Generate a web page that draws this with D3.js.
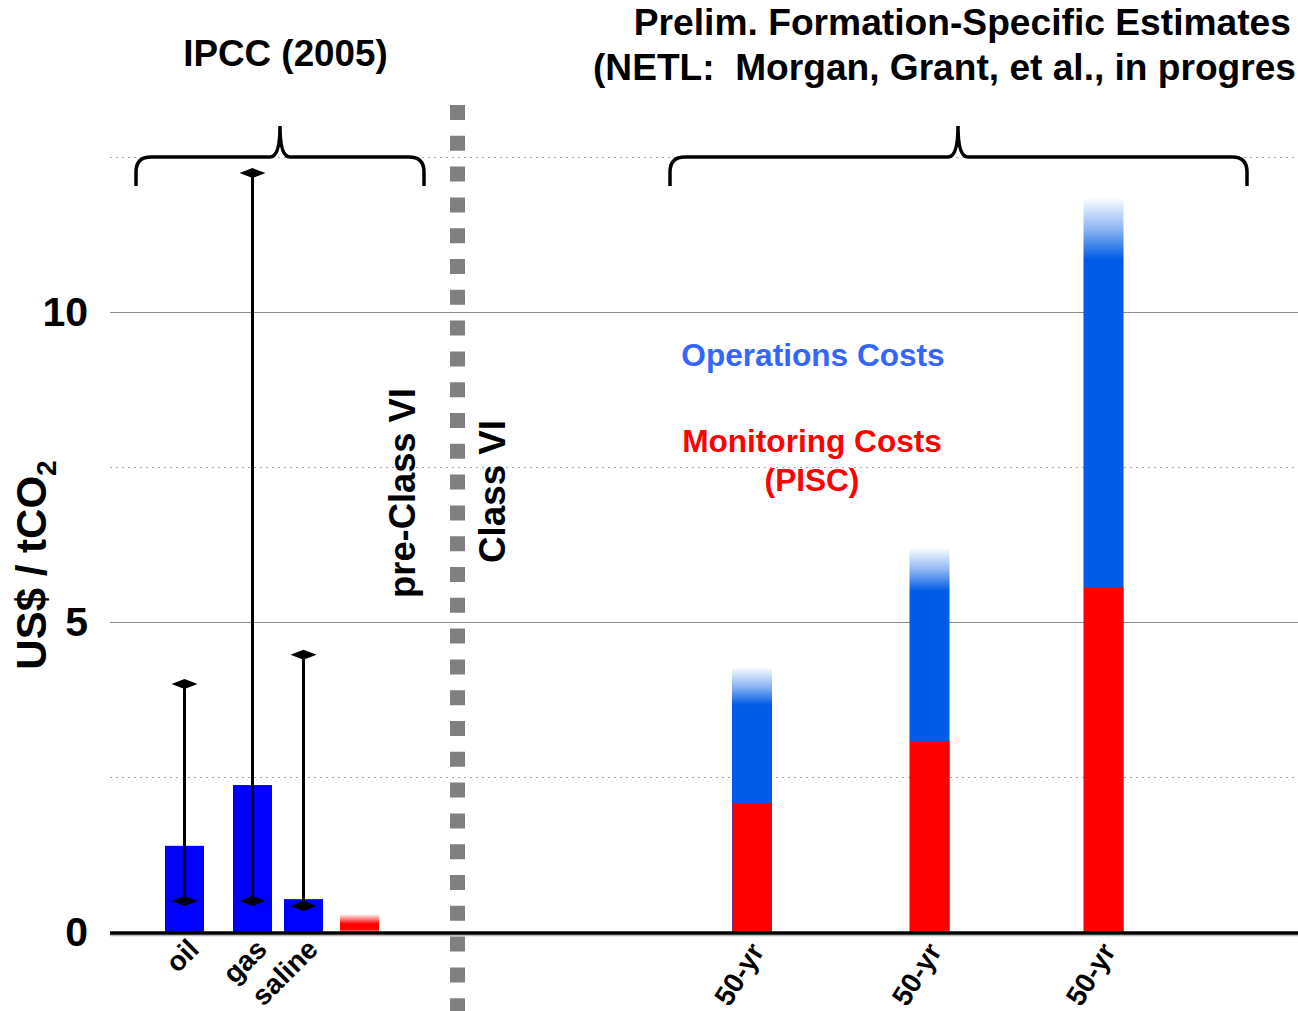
<!DOCTYPE html>
<html>
<head>
<meta charset="utf-8">
<script src="https://cdn.jsdelivr.net/npm/d3@7"></script>
<style>
  html, body { margin: 0; padding: 0; background: #fff; }
  svg { display: block; font-family: "Liberation Sans", Arial, sans-serif; font-weight: bold; }
</style>
</head>
<body>
<svg id="chart" width="1298" height="1011"></svg>
<script>
// ---- data ----
const ipccCategories = ["oil", "gas", "saline", "pre-VI"];
const ipccLabels = ["oil", "gas", "saline", ""];
const ipccValues = [1.39, 2.37, 0.53, 0.29];
const ipccLow = [0.5, 0.5, 0.42, null];
const ipccHigh = [4.0, 12.24, 4.47, null];

const netlCategories = ["n1", "n2", "n3"];
const netlLabels = ["50-yr", "50-yr", "50-yr"];
const monitoringCosts = [2.08, 3.08, 5.56];
const totalCosts = [4.26, 6.18, 11.82];

const solidTicks = [5, 10];
const dottedTicks = [2.5, 7.5, 12.5];
const yTickLabels = [0, 5, 10];

// ---- layout ----
const svg = d3.select("#chart");
const W = 1298, H = 1011;
const left = 110, right = 1298;

const y = d3.scaleLinear().domain([0, 12.5]).range([932, 157]);
const x = d3.scaleOrdinal()
  .domain(ipccCategories.concat(netlCategories))
  .range([184.5, 252.5, 303.5, 359.5, 752, 929.5, 1103.5]);
const barW = 39;

const defs = svg.append("defs");

// gridlines
svg.append("g").selectAll("line").data(dottedTicks).join("line")
  .attr("x1", left).attr("x2", right)
  .attr("y1", d => y(d) + 0.5).attr("y2", d => y(d) + 0.5)
  .attr("stroke", "#a6a6a6").attr("stroke-width", 1.2)
  .attr("stroke-dasharray", "2,4");
svg.append("g").selectAll("line").data(solidTicks).join("line")
  .attr("x1", left).attr("x2", right)
  .attr("y1", d => y(d) + 0.5).attr("y2", d => y(d) + 0.5)
  .attr("stroke", "#8c8c8c").attr("stroke-width", 1);

// y tick labels
svg.append("g").selectAll("text").data(yTickLabels).join("text")
  .attr("x", 88).attr("y", d => y(d) + 14)
  .attr("text-anchor", "end")
  .attr("font-size", 41)
  .text(d => d);

// y axis label
const yl = svg.append("text")
  .attr("transform", `translate(46,${565}) rotate(-90)`)
  .attr("text-anchor", "middle")
  .attr("font-size", 42);
yl.append("tspan").text("US$ / tCO");
yl.append("tspan").attr("font-size", 28).attr("dy", 10).text("2");

// IPCC bars
const ipcc = ipccCategories.map((c, i) => ({c, v: ipccValues[i], lo: ipccLow[i], hi: ipccHigh[i], label: ipccLabels[i]}));

const redFade = defs.append("linearGradient").attr("id", "redFade")
  .attr("x1", 0).attr("x2", 0).attr("y1", 0).attr("y2", 1);
redFade.append("stop").attr("offset", 0).attr("stop-color", "#ffffff");
redFade.append("stop").attr("offset", 0.55).attr("stop-color", "#ff0000");
redFade.append("stop").attr("offset", 0.85).attr("stop-color", "#ff0000");
redFade.append("stop").attr("offset", 1).attr("stop-color", "#ffb0b0");

svg.append("g").selectAll("rect").data(ipcc).join("rect")
  .attr("x", d => x(d.c) - barW / 2)
  .attr("width", barW)
  .attr("y", d => y(d.v))
  .attr("height", d => y(0) - y(d.v))
  .attr("fill", d => d.lo == null ? "url(#redFade)" : "#0000ff");

// error bars
const eb = ipcc.filter(d => d.lo != null);
svg.append("g").selectAll("line").data(eb).join("line")
  .attr("x1", d => x(d.c)).attr("x2", d => x(d.c))
  .attr("y1", d => y(d.lo)).attr("y2", d => y(d.hi))
  .attr("stroke", "#000").attr("stroke-width", 3);
const diamond = (cx, cy) => `M${cx - 13},${cy}L${cx},${cy - 5}L${cx + 13},${cy}L${cx},${cy + 5}Z`;
svg.append("g").selectAll("path").data(eb.flatMap(d => [{c: d.c, v: d.lo}, {c: d.c, v: d.hi}])).join("path")
  .attr("d", d => diamond(x(d.c), y(d.v)))
  .attr("fill", "#000");

// NETL stacked bars
const netl = netlCategories.map((c, i) => ({c, m: monitoringCosts[i], t: totalCosts[i], label: netlLabels[i]}));
netl.forEach((d, i) => {
  const top = y(d.t), segH = y(d.m) - y(d.t);
  const fade = Math.min(60, Math.max(37, 0.22 * segH));
  const g = defs.append("linearGradient").attr("id", "blueFade" + i)
    .attr("gradientUnits", "userSpaceOnUse")
    .attr("x1", 0).attr("x2", 0).attr("y1", top).attr("y2", top + fade);
  g.append("stop").attr("offset", 0).attr("stop-color", "#005ce6").attr("stop-opacity", 0.03);
  g.append("stop").attr("offset", 0.5).attr("stop-color", "#005ce6").attr("stop-opacity", 0.45);
  g.append("stop").attr("offset", 1).attr("stop-color", "#005ce6").attr("stop-opacity", 1);
});
svg.append("g").selectAll("rect").data(netl).join("rect")
  .attr("x", d => x(d.c) - barW / 2 - 0.5)
  .attr("width", barW + 1)
  .attr("y", d => y(d.t))
  .attr("height", d => y(0) - y(d.t))
  .attr("fill", (d, i) => `url(#blueFade${i})`);
svg.append("g").selectAll("rect").data(netl).join("rect")
  .attr("x", d => x(d.c) - barW / 2)
  .attr("width", barW + 0.5)
  .attr("y", d => y(d.m))
  .attr("height", d => y(0) - y(d.m))
  .attr("fill", "#ff0000");

// zero axis line
svg.append("line")
  .attr("x1", left).attr("x2", right)
  .attr("y1", y(0) + 3.5).attr("y2", y(0) + 3.5)
  .attr("stroke", "#bbbbbb").attr("stroke-width", 1.5);
svg.append("line")
  .attr("x1", left).attr("x2", right)
  .attr("y1", y(0) + 1).attr("y2", y(0) + 1)
  .attr("stroke", "#000").attr("stroke-width", 3.5);

// divider
svg.append("line")
  .attr("x1", 457.5).attr("x2", 457.5)
  .attr("y1", 105).attr("y2", H)
  .attr("stroke", "#808080").attr("stroke-width", 15)
  .attr("stroke-dasharray", "15,15.8");

// x labels
svg.append("g").selectAll("text").data(ipcc.filter(d => d.label)).join("text")
  .attr("transform", d => `translate(${x(d.c) + 16},${951}) rotate(-45)`)
  .attr("text-anchor", "end")
  .attr("font-size", 28)
  .text(d => d.label);
svg.append("g").selectAll("text").data(netl).join("text")
  .attr("transform", d => `translate(${x(d.c) + 13},${951}) rotate(-58)`)
  .attr("text-anchor", "end")
  .attr("font-size", 28)
  .text(d => d.label);

// braces
function brace(x0, x1, xm, yl, yb, yt) {
  const r = 15;
  return `M${x0},${yb} L${x0},${yl + r} Q${x0},${yl} ${x0 + r},${yl} L${xm - 10},${yl} Q${xm},${yl} ${xm},${yt} ` +
    `Q${xm},${yl} ${xm + 10},${yl} L${x1 - r},${yl} Q${x1},${yl} ${x1},${yl + r} L${x1},${yb}`;
}
svg.append("path").attr("d", brace(136, 424, 280, y(12.5), 186, 126))
  .attr("fill", "none").attr("stroke", "#000").attr("stroke-width", 3.5);
svg.append("path").attr("d", brace(670, 1247, 958, y(12.5), 186, 126))
  .attr("fill", "none").attr("stroke", "#000").attr("stroke-width", 3.5);

// titles
svg.append("text").attr("x", 285.5).attr("y", 66).attr("text-anchor", "middle")
  .attr("font-size", 36.8).text("IPCC (2005)");
svg.append("text").attr("x", 1291).attr("y", 35).attr("text-anchor", "end")
  .attr("font-size", 37.2).text("Prelim. Formation-Specific Estimates");
svg.append("text").attr("x", 593).attr("y", 80).attr("text-anchor", "start")
  .attr("font-size", 37.2).style("white-space", "pre")
  .attr("textLength", 703).attr("lengthAdjust", "spacingAndGlyphs")
  .text("(NETL:  Morgan, Grant, et al., in progres");

// annotations
svg.append("text").attr("x", 813).attr("y", 366).attr("text-anchor", "middle")
  .attr("font-size", 31.6).attr("fill", "#3366ff").text("Operations Costs");
svg.append("text").attr("x", 812).attr("y", 452).attr("text-anchor", "middle")
  .attr("font-size", 31.6).attr("fill", "#ff0000").text("Monitoring Costs");
svg.append("text").attr("x", 812).attr("y", 491).attr("text-anchor", "middle")
  .attr("font-size", 31.6).attr("fill", "#ff0000").text("(PISC)");

svg.append("text").attr("transform", "translate(415,493) rotate(-90)")
  .attr("text-anchor", "middle").attr("font-size", 36.3).text("pre-Class VI");
svg.append("text").attr("transform", "translate(505,491.5) rotate(-90)")
  .attr("text-anchor", "middle").attr("font-size", 36.8).text("Class VI");
</script>
</body>
</html>
